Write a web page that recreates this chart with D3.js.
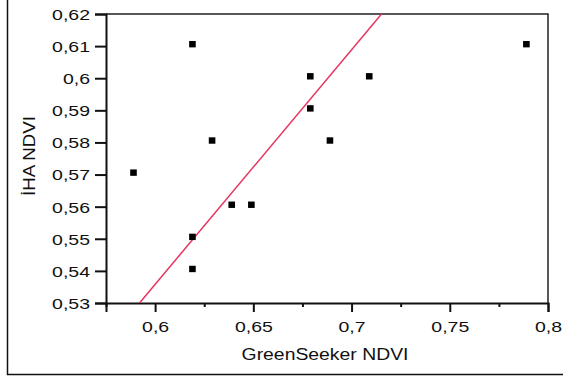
<!DOCTYPE html>
<html>
<head>
<meta charset="utf-8">
<script src="https://cdn.jsdelivr.net/npm/d3@7"></script>
<style>
  body { margin: 0; background: #fff; }
  svg text { font-family: "Liberation Sans", Arial, sans-serif; fill: #111; }
</style>
</head>
<body>
<svg id="chart" width="563" height="380"></svg>
<script>
// GreenSeeker vs IHA NDVI
const greenSeeker = [0.589, 0.619, 0.619, 0.619, 0.629, 0.639, 0.649, 0.679, 0.679, 0.689, 0.709, 0.789];
const ihaNdvi = [0.5706, 0.6106, 0.5506, 0.5406, 0.5806, 0.5606, 0.5606, 0.6006, 0.5906, 0.5806, 0.6006, 0.6106];
const xTicks = [0.6, 0.65, 0.7, 0.75, 0.8];
const xMinorTicks = [0.575, 0.625, 0.675, 0.725, 0.775];
const yTicks = [0.53, 0.54, 0.55, 0.56, 0.57, 0.58, 0.59, 0.6, 0.61, 0.62];
// fitted line y = a + b*x
const fitCoef = [0.0975, 0.7305];

const svg = d3.select('#chart');
const plot = { left: 106, top: 14, right: 548, bottom: 303 };
const stretch = 1.3; // labels in the source are drawn wide

const x = d3.scaleLinear().domain([0.575, 0.8]).range([plot.left, plot.right]);
const y = d3.scaleLinear().domain([0.53, 0.62]).range([plot.bottom, plot.top]);
const fmt = d => String(+d.toFixed(3)).replace('.', ',');

// outer frame (left and bottom edges only are in view)
svg.append('path')
  .attr('d', 'M7.5,0 V374.5 H563')
  .attr('fill', 'none')
  .attr('stroke', '#111')
  .attr('stroke-width', 1.5);

// plot box: top and right
svg.append('path')
  .attr('d', `M${plot.left},${plot.top} H${plot.right} V${plot.bottom}`)
  .attr('fill', 'none')
  .attr('stroke', '#222')
  .attr('stroke-width', 1.5);

// x axis
const xAxis = svg.append('g')
  .attr('transform', `translate(0,${plot.bottom})`)
  .call(d3.axisBottom(x).tickValues(xTicks).tickFormat(fmt).tickSize(9).tickPadding(9));
svg.append('g')
  .attr('transform', `translate(0,${plot.bottom})`)
  .call(d3.axisBottom(x).tickValues(xMinorTicks).tickFormat('').tickSize(4))
  .call(g => g.select('.domain').remove());

// y axis
const yAxis = svg.append('g')
  .attr('transform', `translate(${plot.left},0)`)
  .call(d3.axisLeft(y).tickValues(yTicks).tickFormat(fmt).tickSize(11).tickPadding(5));

svg.selectAll('.domain').attr('stroke', '#111').attr('stroke-width', 2);
svg.selectAll('.tick line').attr('stroke', '#111').attr('stroke-width', 2);
svg.selectAll('.tick text').attr('font-size', 15).attr('fill', '#111');

xAxis.selectAll('.tick text')
  .attr('transform', `scale(${stretch},1)`);
yAxis.selectAll('.tick text')
  .attr('x', 0)
  .attr('dy', '0.36em')
  .attr('transform', `translate(-16,0) scale(${stretch},1)`);

// regression line clipped to the plot
svg.append('clipPath').attr('id', 'clip')
  .append('rect')
  .attr('x', plot.left).attr('y', plot.top)
  .attr('width', plot.right - plot.left).attr('height', plot.bottom - plot.top);

const line = d3.line().x(d => x(d)).y(d => y(fitCoef[0] + fitCoef[1] * d));
svg.append('path')
  .datum(x.domain())
  .attr('clip-path', 'url(#clip)')
  .attr('d', line)
  .attr('fill', 'none')
  .attr('stroke', '#e8335e')
  .attr('stroke-width', 1.5);

// points
const pts = greenSeeker.map((v, i) => ({ gs: v, iha: ihaNdvi[i] }));
svg.selectAll('rect.pt')
  .data(pts)
  .enter()
  .append('rect')
  .attr('class', 'pt')
  .attr('x', d => x(d.gs) - 3.3)
  .attr('y', d => y(d.iha) - 3.2)
  .attr('width', 6.6)
  .attr('height', 6.4)
  .attr('fill', '#000');

// axis titles
svg.append('text')
  .attr('transform', 'translate(325,360) scale(1.14,1)')
  .attr('text-anchor', 'middle')
  .attr('font-size', 17)
  .text('GreenSeeker NDVI');

svg.append('text')
  .attr('transform', 'translate(35,156) rotate(-90) scale(1.1,1)')
  .attr('text-anchor', 'middle')
  .attr('font-size', 17)
  .text('İHA NDVI');
</script>
</body>
</html>
